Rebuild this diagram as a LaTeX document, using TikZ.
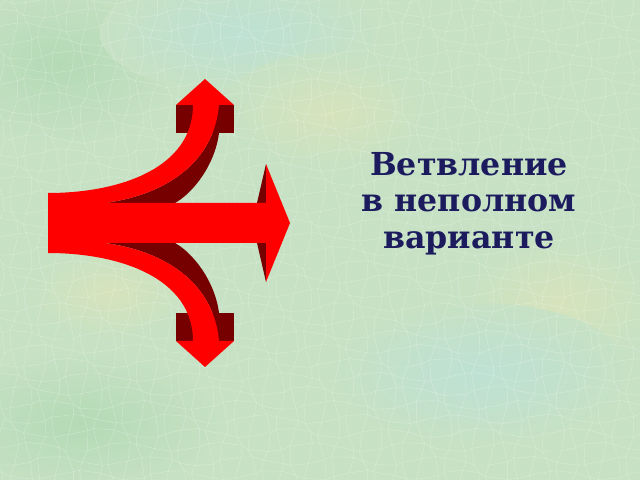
\documentclass[tikz,border=0pt]{standalone}
\usepackage{fontspec}
\newfontfamily\captionfont{DejaVu Serif}
\definecolor{arrowred}{RGB}{255,0,0}
\definecolor{arrowdark}{RGB}{118,0,0}
\definecolor{captionblue}{RGB}{27,27,94}
\definecolor{paper}{RGB}{198,225,196}
\definecolor{paperyellow}{RGB}{214,227,188}
\definecolor{paperblue}{RGB}{190,225,212}
\definecolor{papergreen}{RGB}{180,218,180}

\begin{document}
\begin{tikzpicture}[x=0.025cm,y=0.025cm,
    back/.style={fill=arrowdark},
    front/.style={fill=arrowred},
    blob/.style={shading=radial,inner color=#1,outer color=paper},
    crack/.style={draw=white,opacity=0.3,line width=0.3pt},
    caption/.style={font=\captionfont\bfseries\fontsize{22.5}{27}\selectfont,
      text=captionblue,anchor=base,inner sep=0pt}]

    % paper background
    \fill[paper] (0,-257) rectangle (640,223);
    \useasboundingbox (0,-257) rectangle (640,223);
    \shade[blob=papergreen] (60,160) ellipse (120 and 80);
    \shade[blob=paperblue] (240,190) ellipse (140 and 60);
    \shade[blob=paperyellow] (330,110) ellipse (110 and 60);
    \shade[blob=paperyellow] (560,-80) ellipse (110 and 70);
    \shade[blob=paperblue] (480,-150) ellipse (150 and 70);
    \shade[blob=papergreen] (80,-200) ellipse (140 and 70);
    \shade[blob=paperyellow] (110,-70) ellipse (90 and 50);

    % crackle texture
    \begin{scope}
      \clip (0,-257) rectangle (640,223);
      \foreach \i in {0,...,45} {
        \foreach \j in {-19,...,16} {
          \pgfmathsetmacro\ax{14*\i+4.5*sin(137*\i+71*\j)}
          \pgfmathsetmacro\ay{14*\j+4.5*cos(53*\i+97*\j)}
          \pgfmathsetmacro\bx{14*(\i+1)+4.5*sin(137*(\i+1)+71*\j)}
          \pgfmathsetmacro\by{14*\j+4.5*cos(53*(\i+1)+97*\j)}
          \pgfmathsetmacro\cx{14*\i+4.5*sin(137*\i+71*(\j+1))}
          \pgfmathsetmacro\cy{14*(\j+1)+4.5*cos(53*\i+97*(\j+1))}
          \path[crack] (\bx,\by) -- (\ax,\ay) -- (\cx,\cy);
        }
      }
    \end{scope}

    % back faces
    \foreach \s in {1,-1} {
      \begin{scope}[yscale=\s]
        \path[back] (176,90) rectangle (234,118);
        \path[back] (105,20) .. controls (165,28) and (214,60) .. (219,118)
          -- (219,90) .. controls (215,58) and (193,30) .. (175,20) -- cycle;
        \path[back] (266,59) -- (266,20) -- (257,20) -- cycle;
      \end{scope}
    }

    % front face
    \path[front] (48,30) .. controls (120,30) and (193,55) .. (193,118)
      -- (176,118) -- (205,144) -- (234,118) -- (219,118)
      .. controls (214,60) and (165,28) .. (105,20)
      -- (266,20) -- (266,59) -- (290,0) -- (266,-59) -- (266,-20)
      -- (105,-20) .. controls (165,-28) and (214,-60) .. (219,-118)
      -- (234,-118) -- (205,-144) -- (176,-118) -- (193,-118)
      .. controls (193,-55) and (120,-30) .. (48,-30) -- cycle;

    % caption
    \node[caption] at (469,47) (branching) {Ветвление};
    \node[caption] at (469,11) (incomplete) {в неполном};
    \node[caption] at (469,-26) (variant) {варианте};
  \end{tikzpicture}
\end{document}
